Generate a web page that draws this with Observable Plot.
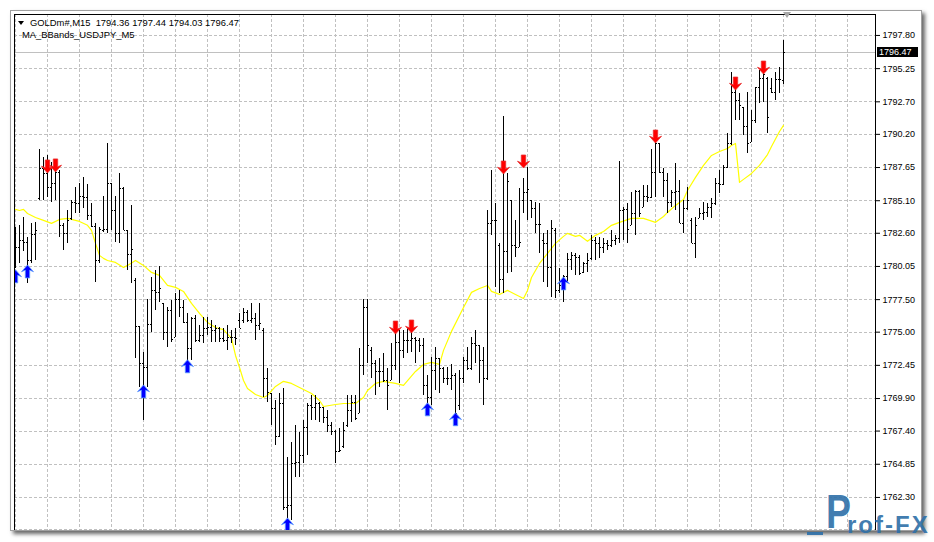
<!DOCTYPE html>
<html><head><meta charset="utf-8">
<script src="https://cdn.jsdelivr.net/npm/d3@7"></script>
<script src="https://cdn.jsdelivr.net/npm/@observablehq/plot@0.6"></script>
<style>
body{margin:0;background:#fff;}
#wrap{position:relative;width:934px;height:542px;overflow:hidden;background:#fff;font-family:"Liberation Sans",Arial,sans-serif;}
#chart{position:absolute;left:0;top:0;}
.ov{position:absolute;pointer-events:none;white-space:pre;}
</style></head><body>
<div id="wrap"><div id="chart"></div></div>
<script>
const symbolName = "GOLDm#,M15";
const headerOHLC = ["1794.36", "1797.44", "1794.03", "1796.47"];
const indicatorName = "MA_BBands_USDJPY_M5";
const watermark = ["P", "rof-FX"];

// grid levels (the lowest one is hidden behind the window edge in the reference)
const priceTicks = [1797.80, 1795.25, 1792.70, 1790.20, 1787.65, 1785.10, 1782.60, 1780.05, 1777.50, 1775.00, 1772.45, 1769.90, 1767.40, 1764.85, 1762.30, 1759.80];
const labelTicks = [1797.80, 1795.25, 1792.70, 1790.20, 1787.65, 1785.10, 1782.60, 1780.05, 1777.50, 1775.00, 1772.45, 1769.90, 1767.40, 1764.85, 1762.30];

const barOpen = [
1782.05,1781.51,1782.05,1781.90,1780.51,1782.51,1785.28,1787.59,1787.20,1786.12,
1786.43,1787.28,1783.21,1782.59,1783.74,1784.97,1784.89,1785.43,1785.35,1783.97,
1783.13,1780.51,1782.82,1782.90,1786.43,1784.35,1782.59,1786.05,1782.82,1780.97,
1778.97,1775.44,1772.60,1772.29,1775.59,1778.21,1778.06,1777.21,1774.98,1776.67,
1774.59,1777.52,1776.90,1775.75,1773.75,1776.06,1774.36,1774.75,1775.29,1775.36,
1775.13,1775.29,1774.52,1774.36,1774.59,1774.59,1775.90,1775.90,1776.52,1775.90,
1776.06,1775.52,1775.13,1771.45,1770.29,1769.14,1766.99,1769.52,1761.53,1761.69,
1764.91,1764.99,1765.53,1767.68,1769.37,1769.21,1769.52,1769.21,1768.45,1767.84,
1767.37,1765.83,1766.22,1767.84,1768.99,1769.60,1768.76,1772.45,1776.90,1773.60,
1772.60,1771.98,1771.98,1771.29,1771.29,1772.45,1774.21,1773.60,1774.36,1774.36,
1774.52,1774.36,1773.98,1770.91,1769.98,1772.06,1772.99,1772.22,1771.45,1771.45,
1771.68,1769.37,1771.45,1772.83,1772.22,1774.13,1773.98,1772.83,1771.45,1783.36,
1783.59,1781.67,1779.05,1781.20,1785.12,1781.67,1781.51,1785.12,1785.74,1785.12,
1784.51,1783.28,1782.05,1781.82,1779.97,1782.82,1778.21,1778.59,1779.28,1780.59,
1780.90,1780.74,1779.59,1780.28,1780.67,1782.05,1781.82,1781.51,1781.82,1781.67,
1782.05,1782.21,1784.35,1784.43,1783.21,1784.12,1785.81,1784.58,1785.43,1785.35,
1787.28,1789.50,1787.28,1786.66,1784.97,1785.74,1785.81,1783.36,1784.51,1783.59,
1781.82,1783.74,1784.12,1784.20,1784.58,1784.89,1786.43,1786.35,1787.66,1789.50,
1793.42,1792.81,1792.27,1790.81,1789.58,1791.27,1793.80,1794.49,1794.49,1793.72,
1793.42,1794.42,1794.36];

const barHigh = [
1783.05,1783.21,1783.81,1782.28,1783.36,1783.44,1789.04,1788.42,1788.58,1788.05,
1788.20,1787.43,1783.36,1784.35,1785.12,1786.12,1786.43,1786.89,1786.35,1784.89,
1783.36,1783.05,1785.43,1789.50,1786.43,1785.43,1787.20,1786.12,1782.82,1784.74,
1779.13,1775.44,1773.45,1777.52,1779.20,1779.74,1780.05,1777.21,1776.90,1777.44,
1777.98,1778.21,1777.44,1776.44,1776.13,1776.29,1775.52,1776.13,1776.13,1775.90,
1775.52,1775.36,1775.29,1775.52,1775.13,1775.29,1776.44,1776.83,1776.67,1777.21,
1776.44,1777.21,1775.29,1772.22,1770.29,1769.75,1770.29,1770.67,1765.37,1766.53,
1767.84,1767.30,1768.22,1769.52,1770.14,1770.14,1769.60,1769.21,1768.99,1768.07,
1767.45,1767.61,1768.07,1770.14,1770.14,1770.14,1773.75,1777.52,1777.52,1773.82,
1772.83,1772.99,1773.37,1772.22,1774.13,1774.90,1775.13,1775.13,1775.29,1775.13,
1774.59,1774.52,1774.52,1771.68,1773.06,1773.82,1772.99,1772.29,1772.29,1772.52,
1771.83,1772.06,1773.06,1773.82,1774.59,1775.13,1773.98,1773.82,1784.35,1787.43,
1784.89,1781.82,1791.58,1787.20,1785.12,1783.59,1786.05,1786.81,1787.66,1785.12,
1784.97,1784.89,1782.59,1782.82,1783.59,1782.98,1779.90,1779.36,1781.05,1781.13,
1781.05,1780.90,1780.36,1781.05,1782.44,1782.28,1782.28,1782.21,1782.05,1782.82,
1782.44,1788.12,1784.58,1784.89,1785.74,1785.89,1785.89,1786.28,1786.28,1789.04,
1789.58,1789.50,1787.59,1787.20,1785.89,1787.97,1786.66,1785.12,1786.12,1783.74,
1783.81,1784.51,1784.97,1784.89,1785.28,1786.81,1787.43,1787.82,1790.27,1794.96,
1793.96,1793.34,1792.27,1793.42,1792.04,1793.80,1795.11,1794.88,1794.57,1794.49,
1794.96,1795.34,1797.44];

const barLow = [
1779.90,1780.28,1781.20,1778.74,1780.28,1780.51,1785.12,1785.12,1785.35,1784.97,
1785.12,1782.28,1781.28,1781.82,1783.59,1784.12,1784.12,1784.51,1783.59,1783.05,
1778.82,1780.28,1782.67,1782.59,1782.82,1781.90,1781.82,1782.82,1779.74,1778.74,
1772.99,1770.75,1768.22,1770.75,1774.98,1776.67,1777.29,1774.36,1773.82,1774.21,
1774.59,1776.13,1775.67,1772.68,1772.83,1774.21,1774.21,1774.13,1774.75,1774.21,
1774.21,1774.21,1774.21,1773.60,1774.13,1773.98,1775.29,1775.67,1775.75,1775.67,
1774.36,1775.13,1769.98,1769.60,1767.84,1766.30,1766.91,1761.30,1760.69,1760.53,
1763.84,1763.84,1764.91,1765.53,1768.22,1768.22,1768.07,1767.99,1767.30,1767.07,
1764.91,1765.76,1766.07,1767.68,1768.07,1768.22,1768.76,1771.68,1772.60,1771.45,
1770.14,1770.75,1771.14,1768.99,1771.29,1772.06,1771.06,1772.99,1773.37,1773.45,
1772.60,1773.45,1770.14,1769.52,1769.37,1770.52,1770.29,1771.06,1770.91,1770.52,
1767.84,1768.99,1771.06,1772.06,1772.06,1772.60,1771.06,1769.37,1771.29,1782.44,
1778.44,1777.98,1777.98,1779.51,1779.59,1780.74,1781.51,1784.12,1783.59,1783.74,
1782.59,1781.05,1778.82,1778.44,1777.67,1777.59,1777.98,1777.29,1778.74,1779.74,
1779.36,1779.36,1779.51,1779.59,1780.51,1780.51,1780.67,1781.05,1781.28,1781.51,
1781.67,1781.82,1782.05,1781.82,1783.21,1782.44,1783.81,1784.58,1784.97,1785.28,
1785.35,1787.20,1785.35,1784.12,1784.58,1784.35,1783.36,1782.59,1784.35,1781.82,
1780.67,1783.74,1783.59,1783.81,1783.74,1784.74,1785.66,1786.28,1787.59,1789.35,
1791.27,1791.27,1790.12,1788.73,1789.58,1791.04,1792.58,1792.65,1790.27,1793.34,
1792.81,1793.34,1794.03];

const barClose = [
1781.51,1782.05,1781.90,1780.51,1782.51,1782.82,1787.59,1787.20,1786.12,1786.43,
1787.28,1783.21,1782.59,1783.59,1784.97,1784.89,1785.43,1785.35,1783.97,1783.13,
1780.51,1782.90,1782.90,1786.43,1784.35,1782.59,1786.05,1782.82,1780.97,1781.36,
1775.44,1772.60,1772.29,1775.59,1778.21,1778.06,1778.36,1774.98,1776.67,1774.44,
1777.52,1776.90,1775.75,1773.75,1776.06,1774.36,1774.75,1775.29,1775.36,1775.13,
1775.29,1774.52,1774.36,1774.59,1774.59,1774.52,1775.29,1776.52,1775.90,1776.06,
1775.52,1775.67,1771.45,1770.37,1769.14,1766.99,1769.52,1761.53,1761.69,1764.91,
1764.99,1765.53,1767.68,1769.37,1769.21,1769.52,1769.21,1768.45,1767.84,1767.37,
1765.83,1765.91,1767.45,1768.99,1769.60,1768.37,1772.45,1776.90,1773.98,1772.60,
1771.98,1771.98,1771.29,1770.91,1772.45,1774.21,1773.60,1774.36,1774.36,1774.52,
1774.36,1773.98,1770.91,1769.98,1772.06,1772.99,1772.22,1771.45,1771.45,1771.68,
1768.76,1771.45,1772.83,1772.22,1774.13,1773.98,1772.83,1771.45,1783.36,1783.59,
1783.59,1779.05,1781.20,1786.58,1781.67,1781.51,1781.90,1785.74,1785.97,1784.51,
1783.28,1783.28,1781.82,1779.97,1782.98,1778.21,1778.59,1779.28,1780.59,1780.90,
1780.74,1779.51,1780.28,1780.51,1782.05,1781.82,1781.51,1781.82,1781.67,1782.05,
1782.21,1784.35,1784.43,1782.90,1784.12,1785.81,1784.12,1785.43,1785.35,1787.28,
1789.50,1787.28,1786.66,1784.97,1785.74,1785.81,1783.36,1784.51,1785.12,1781.82,
1783.21,1784.12,1784.20,1784.58,1784.89,1786.43,1786.35,1787.66,1789.50,1793.42,
1792.81,1792.43,1790.81,1789.50,1791.27,1793.80,1794.49,1794.80,1791.50,1793.42,
1794.42,1794.42,1796.47];

const maIndex = [0,1,2,3,5,7,9,11,13,16,18,19,20,21,22,23,25,27,28,30,32,34,36,38,40,42,44,46,48,50,52,54,55,56,57,58,60,62,63,65,67,69,72,74,76,77,80,82,85,87,88,90,92,95,97,100,102,104,106,107,109,112,114,116,118,119,121,123,125,127,128,129,131,133,135,137,138,140,141,143,145,147,149,151,154,157,160,162,163,165,167,168,170,172,174,176,178,179,180,181,182,184,186,188,189,191,192];
const maValue = [1784.43,1784.35,1784.43,1784.12,1783.81,1783.59,1783.36,1783.66,1783.74,1783.51,1783.21,1782.82,1781.82,1780.90,1780.67,1780.51,1780.36,1779.97,1780.13,1780.51,1780.13,1779.59,1779.36,1778.59,1778.44,1778.13,1777.21,1776.44,1775.75,1775.36,1775.20,1774.52,1773.21,1772.29,1771.29,1770.67,1770.21,1769.98,1770.14,1770.83,1771.22,1771.06,1770.60,1770.29,1769.75,1769.29,1769.44,1769.52,1769.52,1769.98,1770.52,1771.06,1771.22,1771.06,1770.91,1771.98,1772.52,1772.68,1772.52,1773.60,1775.06,1776.90,1778.06,1778.36,1778.59,1778.13,1777.90,1778.21,1777.90,1777.59,1778.21,1779.20,1780.28,1781.05,1781.82,1782.36,1782.59,1782.36,1782.44,1781.98,1782.44,1782.74,1783.21,1783.44,1783.74,1783.74,1783.44,1783.89,1784.20,1784.74,1785.20,1785.89,1786.89,1787.82,1788.58,1788.88,1789.11,1789.35,1789.50,1786.51,1786.74,1787.20,1787.82,1788.65,1789.27,1790.42,1790.89];

const buyIndex = [0, 3, 32, 43, 68, 103, 110, 137];
const buyPrice = [1779.28, 1779.66, 1770.44, 1772.37, 1760.22, 1769.06, 1768.30, 1778.74];
const sellIndex = [8, 10, 95, 99, 122, 127, 160, 180, 187];
const sellPrice = [1787.74, 1787.82, 1775.36, 1775.44, 1787.66, 1788.12, 1790.04, 1794.11, 1795.34];

const gridEvery = 8;

// ---- build tables
const bars = barOpen.map((o, i) => ({i, open: o, high: barHigh[i], low: barLow[i], close: barClose[i]}));
const ma = maIndex.map((i, k) => ({i, v: maValue[k]}));
const buys = buyIndex.map((i, k) => ({i, p: buyPrice[k]}));
const sells = sellIndex.map((i, k) => ({i, p: sellPrice[k]}));
const lastClose = barClose[barClose.length - 1];
const gridIdx = d3.range(0, 216, gridEvery);

function arrowSymbol(dir) {
  const pts = [[0,-6.6],[6,0.2],[2.2,-1.4],[2.2,6.4],[-2.2,6.4],[-2.2,-1.4],[-6,0.2]];
  return {draw(ctx, size) {
    const s = Math.sqrt(size / Math.PI) / 6;
    pts.forEach(([x, y], k) => {
      const px = x * s, py = y * s * dir;
      if (k === 0) ctx.moveTo(px, py); else ctx.lineTo(px, py);
    });
    ctx.closePath();
  }};
}

const font = "'Liberation Sans', Arial, sans-serif";

const chart = Plot.plot({
  width: 934, height: 542,
  marginLeft: 14, marginRight: 59, marginTop: 14, marginBottom: 12,
  x: {domain: [-0.25, 215], axis: null},
  y: {domain: [1759.76, 1799.41], axis: null, label: null},
  style: {background: "transparent", fontFamily: font, fontSize: "9px", color: "#000"},
  marks: [
    Plot.ruleY(priceTicks, {stroke: "#c0c0c0", strokeDasharray: "3,2", shapeRendering: "crispEdges"}),
    Plot.ruleX(gridIdx, {stroke: "#c0c0c0", strokeDasharray: "3,2", shapeRendering: "crispEdges"}),
    Plot.ruleY([lastClose], {stroke: "#c0c0c0", shapeRendering: "crispEdges"}),
    Plot.line(ma, {x: "i", y: "v", stroke: "#ffff00", strokeWidth: 1.2}),
    Plot.ruleX(bars, {x: "i", y1: "low", y2: "high", stroke: "#000", shapeRendering: "crispEdges"}),
    Plot.ruleY(bars, {x1: d => d.i - 0.25, x2: d => d.i, y: "open", stroke: "#000", shapeRendering: "crispEdges"}),
    Plot.ruleY(bars, {x1: d => d.i + 0.25, x2: d => d.i + 0.5, y: "close", stroke: "#000", shapeRendering: "crispEdges"}),
    Plot.dot(buys, {x: "i", y: "p", symbol: arrowSymbol(1), r: 6, fill: "#0000ff", stroke: "#5c9cff", strokeWidth: 0.8, clip: true}),
    Plot.dot(sells, {x: "i", y: "p", symbol: arrowSymbol(-1), r: 6, fill: "#ff0000", stroke: "#e83030", strokeWidth: 0.8, clip: true}),
    Plot.axisY(labelTicks, {anchor: "right", tickSize: 4, tickPadding: 3, tickFormat: d => d.toFixed(2), label: null, fontSize: 9, fill: "#000", stroke: "#000"}),
    Plot.frame({stroke: "#000"})
  ]
});
const wrap = document.getElementById("wrap");
document.getElementById("chart").appendChild(chart);

function ov(html, css) {
  const d = document.createElement("div");
  d.className = "ov";
  d.innerHTML = html;
  d.style.cssText += css;
  wrap.appendChild(d);
  return d;
}
const ys = chart.scale("y"), xs = chart.scale("x");

// header
ov("", "left:18px;top:21px;width:0;height:0;border-left:3px solid transparent;border-right:3px solid transparent;border-top:4px solid #000;");
ov(symbolName + "  " + headerOHLC.join(" "), `left:30px;top:17px;font:9.4px ${font};line-height:11px;color:#000;`);
ov(indicatorName, `left:22px;top:29px;font:9.4px ${font};line-height:11px;color:#000;`);

// bid label
const yb = ys.apply(lastClose);
ov(lastClose.toFixed(2), `left:877px;top:${yb - 5}px;width:41px;height:10px;background:#000;color:#fff;font:9px ${font};line-height:10px;padding-left:2px;box-sizing:border-box;`);

// chart shift marker
ov("", `left:${xs.apply(barOpen.length) - 4}px;top:12px;width:0;height:0;border-left:4px solid transparent;border-right:4px solid transparent;border-top:6px solid #a8a8a8;`);

// window border & shadow
ov("", "left:0;top:532px;width:934px;height:10px;background:#fff;");
ov("", "left:923px;top:0;width:11px;height:542px;background:#fff;");
ov("", "left:10px;top:10px;width:912px;height:521px;border:1px solid #a0a0a0;box-sizing:border-box;box-shadow:3px 3px 4px rgba(0,0,0,0.6);");

// watermark
const wm = "rgba(47,112,168,0.92)";
ov("", `left:807px;top:532px;width:16px;height:3px;background:${wm};`);
ov(watermark[0], `left:826px;top:486px;font:bold 48px ${font};line-height:52px;color:${wm};transform:scaleX(0.78);transform-origin:left top;`);
ov(watermark[1], `left:847px;top:512px;font:bold 24px ${font};line-height:26px;letter-spacing:2px;color:${wm};`);
</script>
</body></html>
